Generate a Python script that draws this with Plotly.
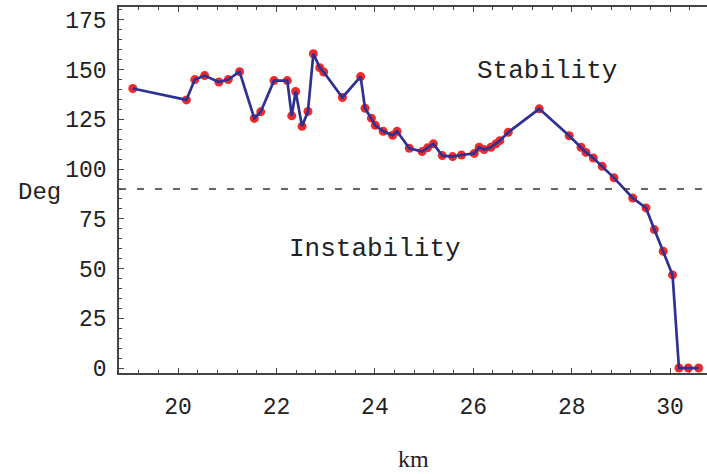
import plotly.graph_objects as go

km = [19.08, 20.17, 20.34, 20.54, 20.83, 21.02, 21.25, 21.55, 21.68, 21.95,
      22.22, 22.31, 22.39, 22.52, 22.64, 22.75, 22.88, 22.96, 23.34, 23.71,
      23.80, 23.93, 24.01, 24.17, 24.36, 24.45, 24.70, 24.96, 25.07, 25.19,
      25.37, 25.58, 25.76, 26.02, 26.12, 26.22, 26.36, 26.46, 26.54, 26.71,
      27.34, 27.95, 28.19, 28.29, 28.44, 28.62, 28.86, 29.24, 29.51, 29.68,
      29.86, 30.05, 30.18, 30.37, 30.58]
deg = [140.5, 134.8, 145.0, 147.0, 143.8, 145.0, 149.0, 125.5, 128.8, 144.5,
       144.5, 126.8, 139.0, 121.5, 129.0, 158.0, 151.0, 148.8, 136.0, 146.5,
       130.6, 125.6, 122.0, 119.0, 117.0, 119.0, 110.5, 108.8, 110.7, 112.7,
       106.8, 106.3, 107.1, 107.9, 111.0, 109.8, 111.0, 112.7, 114.3, 118.5,
       130.3, 116.8, 111.0, 108.4, 105.6, 101.4, 95.6, 85.5, 80.5, 69.6,
       58.7, 46.8, 0, 0, 0]
threshold = 90
x_ticks = [20, 22, 24, 26, 28, 30]
y_ticks = [0, 25, 50, 75, 100, 125, 150, 175]

mono = "Courier New, Liberation Mono, monospace"

fig = go.Figure()
fig.add_trace(go.Scatter(x=km, y=deg, mode="markers",
                         marker=dict(color="#ee2a2a", size=9, line=dict(width=0)),
                         hoverinfo="skip", showlegend=False))
fig.add_trace(go.Scatter(x=km, y=deg, mode="lines",
                         line=dict(color="#2e3192", width=2.7),
                         showlegend=False))
fig.add_trace(go.Scatter(x=[18.8, 30.75], y=[threshold, threshold], mode="lines",
                         line=dict(color="#333333", width=1.3, dash="7px,11px"),
                         hoverinfo="skip", showlegend=False))

axis_common = dict(showgrid=False, zeroline=False, showline=True, linecolor="#444444",
                   linewidth=1.5, ticks="inside", tickcolor="#444444", ticklen=5,
                   tickwidth=1, automargin=False,
                   tickfont=dict(family=mono, size=23, color="#222222"))

fig.update_xaxes(range=[18.8, 30.75], tickvals=x_ticks, mirror="ticks",
                 minor=dict(dtick=0.4, tick0=20, ticks="inside", ticklen=3, tickcolor="#444444"),
                 ticklabelstandoff=12, **axis_common)
fig.update_yaxes(range=[-2.5, 181.5], tickvals=y_ticks,
                 minor=dict(dtick=5, tick0=0, ticks="inside", ticklen=3, tickcolor="#444444"),
                 ticklabelstandoff=6, **axis_common)

fig.add_annotation(x=27.5, y=149.3, xref="x", yref="y", text="Stability", showarrow=False,
                   font=dict(family=mono, size=26, color="#222222"))
fig.add_annotation(x=24.0, y=59.8, xref="x", yref="y", text="Instability", showarrow=False,
                   font=dict(family=mono, size=26, color="#222222"))
fig.add_annotation(x=-0.136, y=88, xref="paper", yref="y", text="Deg", showarrow=False,
                   xanchor="center", yanchor="middle",
                   font=dict(family=mono, size=24, color="#222222"))
fig.add_annotation(x=0.5, y=-0.235, xref="paper", yref="paper", text="km", showarrow=False,
                   xanchor="center", yanchor="middle",
                   font=dict(family="Liberation Serif, serif", size=24, color="#222222"))

fig.update_layout(template="none", width=707, height=474,
                  margin=dict(l=119, r=0, t=7, b=101),
                  plot_bgcolor="white", paper_bgcolor="white")
fig.write_html("out.html", config={"displayModeBar": False},
               post_script="document.body.style.margin='0px';")
